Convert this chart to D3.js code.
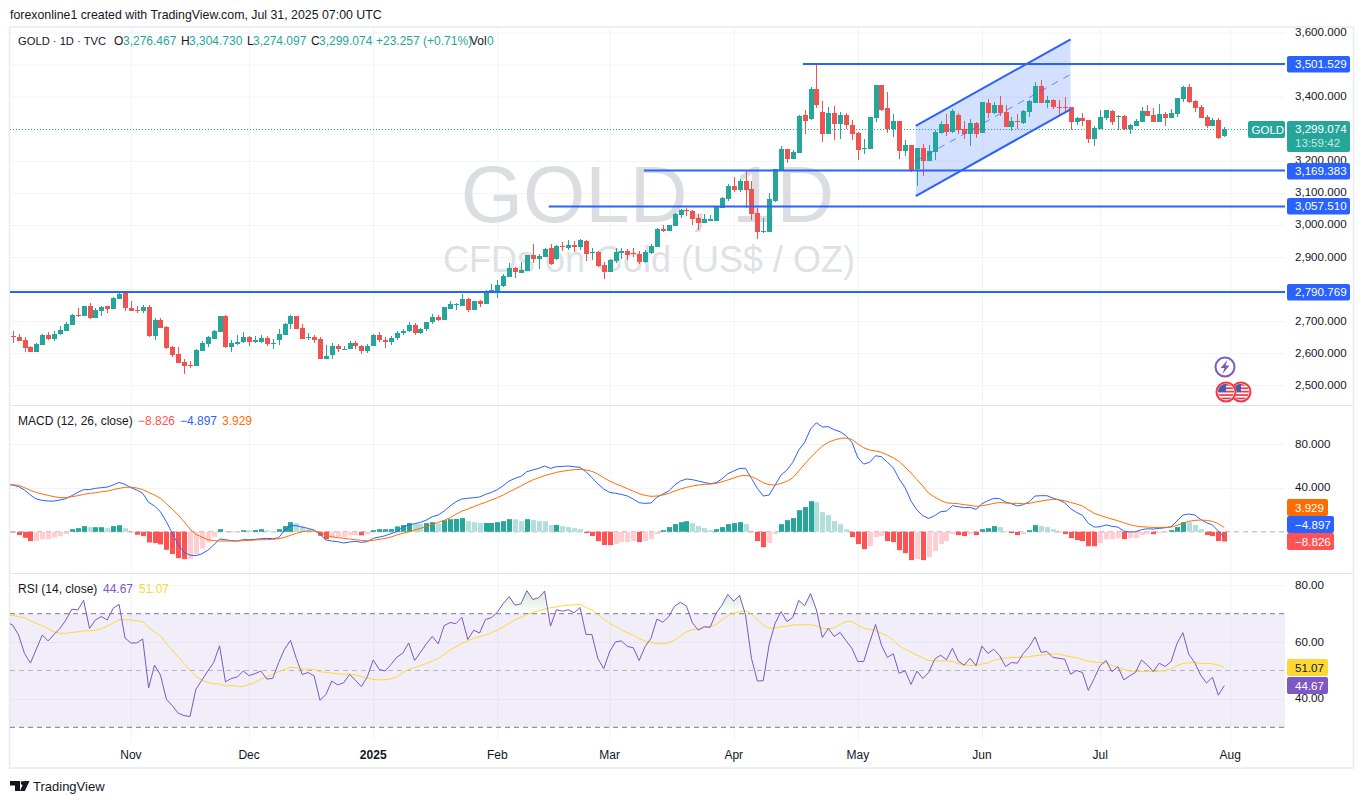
<!DOCTYPE html>
<html><head><meta charset="utf-8">
<script src="https://d3js.org/d3.v7.min.js"></script>
<style>
html,body{margin:0;padding:0;background:#fff;overflow:hidden}
svg{display:block;font-family:"Liberation Sans",Arial,sans-serif}
.tick text{font-family:"Liberation Sans",Arial,sans-serif}
</style></head><body><div id="c"></div>
<script>
const opens=[2654,2651,2641,2619,2604,2626,2657,2644,2660,2669,2688,2719,2716,2747,2710,2732,2747,2738,2769,2788,2741,2735,2732,2744,2654,2704,2682,2619,2598,2573,2563,2560,2607,2629,2644,2666,2716,2619,2629,2635,2651,2635,2635,2647,2630,2641,2657,2691,2716,2679,2647,2651,2644,2582,
2593,2621,2612,2614,2633,2621,2606,2624,2658,2640,2636,2649,2662,2670,2689,2663,2677,2696,2713,2703,2738,2750,2747,2769,2735,2763,2753,2794,2791,2810,2838,2866,2850,2856,2906,2894,2900,2928,2894,2934,2928,2937,2931,2950,2912,2915,2875,2853,2888,2912,2919,2912,2909,2884,2913,2931,2987,2981,2997,3031,3047,3043,3022,3006,3013,3013,3053,3081,3121,3109,3137,3112,3037,2978,2978,3075,3171,3237,3206,3224,3343,3330,3424,3352,3284,3349,3315,3343,3312,3287,3236,3237,3333,3436,3364,3299,3324,3231,3249,3174,3240,3199,3227,3287,3315,3290,3343,3299,3284,3318,3287,3380,3349,3374,3352,3305,3324,3318,3352,3380,3433,3380,3390,3368,3368,3368,3321,3333,3327,3268,3299,3333,3355,3335,3339,3299,3309,3321,3355,3343,3321,3346,3333,3346,3393,3430,3386,3368,3336,3308,3327,3276.467];
const highs=[2669,2660,2651,2622,2632,2660,2666,2669,2685,2697,2722,2741,2747,2757,2741,2747,2747,2775,2788,2791,2763,2747,2750,2750,2710,2710,2685,2622,2619,2582,2576,2613,2638,2654,2672,2716,2719,2641,2657,2666,2654,2654,2657,2654,2644,2676,2694,2719,2716,2691,2663,2657,2651,2626,
2632,2630,2621,2639,2637,2625,2630,2660,2665,2650,2654,2670,2674,2696,2694,2680,2698,2722,2720,2745,2763,2756,2785,2773,2763,2766,2798,2816,2828,2847,2881,2869,2884,2907,2941,2909,2928,2941,2937,2947,2953,2950,2956,2953,2928,2919,2884,2894,2928,2928,2925,2928,2919,2922,2941,2990,2999,2999,3037,3050,3054,3047,3034,3034,3031,3056,3087,3128,3149,3143,3168,3137,3053,3022,3100,3175,3246,3237,3234,3343,3358,3430,3502,3386,3368,3371,3352,3349,3327,3290,3268,3337,3436,3436,3414,3346,3324,3265,3249,3240,3252,3249,3296,3324,3346,3361,3349,3324,3330,3321,3383,3393,3383,3402,3374,3336,3346,3358,3389,3446,3452,3402,3393,3390,3399,3368,3336,3349,3327,3308,3358,3358,3358,3343,3343,3315,3330,3368,3374,3365,3377,3352,3361,3396,3433,3439,3390,3374,3343,3333,3333,3304.73];
const lows=[2632,2638,2604,2604,2604,2626,2641,2638,2657,2669,2688,2713,2716,2707,2710,2716,2725,2738,2769,2732,2732,2725,2725,2651,2641,2679,2613,2588,2570,2535,2554,2560,2607,2619,2644,2666,2616,2604,2626,2632,2622,2632,2632,2622,2613,2626,2657,2676,2676,2644,2641,2632,2582,2582,
2583,2603,2610,2614,2613,2597,2600,2622,2636,2615,2626,2642,2656,2666,2656,2660,2670,2690,2700,2703,2738,2735,2747,2729,2735,2744,2753,2791,2772,2807,2838,2835,2850,2855,2881,2863,2900,2875,2891,2919,2922,2916,2922,2888,2891,2869,2831,2853,2881,2894,2891,2900,2878,2881,2909,2931,2978,2981,2997,3022,3028,3000,2984,3006,3012,3013,3053,3075,3103,3103,3053,3015,2956,2975,2978,3072,3168,3193,3206,3224,3283,3327,3365,3259,3284,3265,3268,3299,3265,3202,3221,3237,3321,3355,3287,3274,3206,3215,3165,3121,3153,3199,3202,3283,3277,3287,3283,3268,3246,3271,3287,3333,3346,3340,3305,3293,3299,3315,3336,3380,3380,3365,3361,3340,3349,3296,3312,3308,3255,3246,3299,3327,3312,3296,3296,3283,3309,3321,3340,3321,3321,3308,3333,3337,3383,3380,3352,3333,3302,3308,3268,3274.097];
const closes=[2652,2638,2616,2604,2629,2657,2644,2660,2672,2691,2719,2716,2747,2710,2735,2744,2738,2772,2785,2741,2732,2732,2744,2654,2704,2679,2616,2594,2570,2560,2560,2610,2632,2651,2669,2716,2619,2632,2635,2651,2635,2641,2647,2629,2632,2660,2691,2716,2676,2644,2650,2641,2582,2591,
2621,2612,2614,2633,2621,2606,2624,2658,2640,2636,2649,2662,2670,2689,2663,2677,2696,2713,2703,2744,2753,2753,2769,2735,2763,2753,2794,2797,2813,2841,2866,2853,2859,2906,2894,2903,2925,2878,2934,2931,2937,2931,2953,2909,2915,2872,2853,2891,2916,2919,2906,2909,2884,2916,2934,2987,2981,2999,3034,3047,3043,3018,3006,3018,3018,3056,3084,3121,3109,3137,3109,3034,2978,2981,3081,3175,3237,3206,3227,3340,3324,3424,3374,3284,3349,3315,3343,3312,3284,3234,3240,3337,3436,3358,3299,3324,3231,3249,3168,3240,3199,3230,3290,3315,3290,3355,3296,3284,3318,3284,3383,3349,3374,3349,3305,3324,3321,3355,3386,3433,3380,3390,3368,3365,3365,3321,3333,3324,3268,3302,3337,3358,3321,3339,3299,3312,3324,3355,3340,3321,3346,3333,3349,3396,3430,3383,3365,3333,3308,3327,3271,3299.074];
const macdLine=[42.6,41.1,38.1,33.5,29.9,28.6,28,28,29,30.2,32.9,35.9,38.4,38.4,39.6,40.2,40.8,42.6,45,43.2,40.2,38.1,35,26.8,23.5,18.3,9.2,-1.4,-11.5,-18.7,-21.2,-21.8,-20,-16.9,-12.1,-6.6,-7.2,-8.1,-8.4,-7.2,-7.2,-6.9,-6.3,-6,-6.3,-5.4,1.3,5.6,5.6,4.3,3.1,1.6,-2.3,-7.5,-8.4,-9,-10.2,-9.3,-8.7,-9.6,-9,-6,-4.8,-3.6,-1.7,0.1,4.3,6.2,7.4,8.6,10.7,13.8,15.3,18.9,23.5,
27.4,29.9,30.5,31.1,31.7,34.1,35.9,38.4,42,46.3,48.7,50.5,54.8,56.3,57.8,59.9,57.8,59.3,59.6,59.9,59.3,58.7,54.8,49.3,43.8,39,35.9,35,34.1,32.6,29.9,26.5,25.9,26.2,31.4,34.4,37.1,42.6,46.3,48.1,47.5,46.3,45,43.8,44.7,48.1,52.9,55.4,57.8,57.8,48.7,39.6,32.6,33.5,42.6,51.7,56.3,63.3,74.5,81.5,93.6,99.4,95.5,95.8,93,91.2,87.6,81.5,67.5,61.7,63.3,69.3,68.4,63.3,58.4,48.1,
40.2,28,19.8,14.7,12.2,14.7,18.3,18.9,23.8,22.9,22,22.3,20.4,25.6,28.3,30.5,30.2,27.1,25.6,23.5,24.7,27.4,32.6,32.9,32.9,30.8,29,26.5,21.1,17.7,15,7.7,4.3,4.6,6.2,5,4.3,0.7,-0.2,0.1,1.9,2.8,2.5,3.1,3.7,4.6,9.8,15.3,16.2,15.3,11.3,8.3,6.2,0.7,-4.897];
const signalLine=[42.9,42.3,40.2,37.8,35.9,34.4,33.2,32,31.1,31.1,32,32.9,34.1,35,35.6,36.5,37.1,38.4,39.6,40.5,40.8,39.9,38.4,35.9,33.5,30.5,25.6,20.7,15.3,9.2,2.5,-2.3,-4.8,-7.2,-8.1,-8.4,-8.4,-8.4,-8.4,-8.1,-7.8,-7.5,-7.2,-7.2,-6.9,-6.3,-5.1,-3.2,-1.4,0.1,0.7,0.7,-0.8,-3.2,-4.5,-5.4,-6,-6.6,-7.2,-7.8,-8.1,-7.8,-6.9,-6,-4.8,-2.9,-1.4,0.1,1.6,3.1,4.9,6.5,8.6,10.4,12.8,
15.9,18.9,20.7,22.9,25,26.8,29,31.1,33.5,36.5,39,41.7,44.7,47.2,49.3,51.1,52.6,54.2,55.1,56,56.6,56.9,56.3,55.1,52.6,49.3,46.3,43.8,41.7,39.3,37.1,34.7,33.2,32.3,32.6,33.5,35,37.1,39,40.5,41.7,42.6,43.2,43.5,44.1,45.6,47.2,49,50.8,51.4,50.5,47.8,44.7,42.9,42.6,44.1,46,49.3,55.4,61.7,67.5,73,78.1,81.5,83.6,85.1,85.4,84.2,80,76.6,74.5,73.6,72.4,70,67.5,63.9,
59,53.5,47.5,41.7,35,31.7,28.6,26.5,25.9,25.6,24.7,24.1,23.2,23.8,24.7,25.9,26.8,26.2,25.9,25.9,25.6,25.9,27.1,28,28.9,29.6,29.2,28.3,26.8,25.3,23.5,20.1,16.8,15,13.2,11.6,10.1,8.3,6.5,5.3,4.6,4.3,4,4,4,4.3,5.9,8,9.5,10.4,10.7,10.4,9.5,7.4,3.929];
const histValues=[-0.5,-3,-5.5,-8.5,-8.5,-6.7,-6.7,-5.2,-4,-2,2.4,3.3,5.2,4.2,4.2,4.2,3.3,5.2,6,3.3,-0.3,-2.7,-3.9,-9.7,-10.3,-11.5,-16.4,-20.3,-24,-24.9,-24.9,-20.3,-15.2,-9.7,-4.9,2.4,0.3,-0.3,-0.3,1.5,1.4,1.6,2.4,1.2,0.6,2.4,5.2,8.8,7.9,4.9,2.4,0.6,-3.6,-6.7,-5.5,-5.2,-5,-3.3,-3,-3.2,-2.1,1.5,2.4,2.4,2.4,4.9,6.1,7.9,7.3,7.2,7.9,8.8,7.6,10.6,11.5,11.8,12.5,9.7,8.8,7.9,8,8,8.8,9.7,11.5,11.3,9.7,11.5,10.6,9.7,9.6,6.1,6.2,5.2,4.3,3.3,2.4,-1.2,-3.9,-8.5,-12.1,-12.2,-11.2,-9.4,-9.4,-8.5,-9.4,-8.5,-6.7,-2.1,1.5,4.3,7,8.8,9.7,7.9,5.2,3.3,1.5,2.4,4.3,7,7.9,8.8,7,-0.3,-8.5,-14,-10.3,-2.1,7,10.6,12.5,19.7,22.5,27.9,27,17.9,15.2,9.7,7,2.4,-4.9,-11.2,-15.8,-13.1,-4.9,-3.9,-8.5,-9.4,-16.7,-19.4,-25.8,-24.9,-25.8,-23.1,-17.6,-11.2,-8.5,-2.1,-3,-3.9,-2.1,-3,2.4,3.3,5.2,4.3,0.6,-1.2,-3,-2.1,1.5,6.1,5.2,4.3,2.4,-0.3,-2.1,-5.8,-7.6,-8.5,-13.1,-13.2,-10.3,-6.7,-6.7,-5.8,-6.7,-5.8,-5.8,-3,-2.1,-2.2,-1.2,-0.3,1.5,4.3,8.8,8.7,6.1,2.4,-3,-3.9,-8.5,-8.826];
const rsiValues=[66,62.5,56,52.6,57.5,62.5,60.4,62.7,64.8,67.8,71.6,71.3,74.7,64.8,67.8,69,67.8,71.9,73.3,61.5,59.7,59.7,61.1,43.9,51.9,48.4,39.9,37.6,35,34.1,33.8,43.4,46.6,49.8,52.8,58.7,46,47.2,47.7,49.8,48.2,48.9,49.8,47,47.2,52.8,57.5,60.6,54.2,48.6,49.3,48.1,39.5,41.6,46.3,44.9,45.7,48.6,46.6,44.3,47.8,53.7,50.4,49.8,52.1,54.7,56.1,59.7,53.5,56.4,59.4,62,59.4,65.8,66.9,
66.5,68.7,60.9,64.2,63.2,68,68.6,70.5,73.6,76,73,73.5,78.1,75,75.6,78,65.6,71.4,70.9,71.4,70.3,72.2,62.7,62.7,54.3,50.6,56.6,60.1,60.4,58.5,58,53.5,58.4,61.3,68.1,67,68.9,72.7,74,72.7,66.8,64.2,65.4,65.2,70.1,73,76.8,74.4,76.4,69.5,54.3,46.3,46.4,59.2,66.6,70.7,67.2,68.7,74.7,72.8,77.1,71.3,61.6,64.8,62,63.4,60.5,57.8,53.1,53.2,59.9,66.2,58.9,54.6,55.9,49,
49.9,45.1,49.8,47.2,49.3,54,55.4,53.8,57.8,53.3,51.9,54.3,51.7,58.6,56,57.5,55.2,51.4,52.8,52.6,56,58.4,61.8,56.4,56.7,54.6,54.3,54,48.7,50,49.3,43,47.2,51.7,53.5,49.6,51.3,46.7,48.1,49.4,53.7,51.9,49.6,52.6,51.4,53.1,59.5,63.3,55.7,52.8,48.4,45.6,47.6,41.3,44.67];
const rsiMA=[69.4,69,68.6,67.5,66.6,65.8,64.8,63.6,63.1,63.1,63.4,63.6,64,64,64.1,64.7,65.6,66.8,67.8,67.9,67.8,67.5,67.2,65.2,63.6,62.2,59.5,57.2,54.8,52.5,50.1,47.8,46.6,45.8,45.4,45.3,44.5,44.7,44.4,44.4,45.1,45.8,47,47.8,48.7,49.6,50.4,51.1,51,50.4,50.5,50.3,49.6,49.3,49.1,48.9,48.7,48.7,48.4,47.8,47.3,46.9,46.7,46.7,47.1,47.7,49.3,50.4,51,51.7,52.5,53.3,54.2,55.7,57.2,
58.4,59.5,60.5,61.3,62,62.5,63.3,64.2,65.4,66.6,67.8,68.7,69.7,70.5,71,71.6,72.1,72.4,72.8,73,73.1,73.3,72.2,71.3,69.7,68.1,66.6,65.6,64.2,63.3,62.5,61.2,60.4,59.9,59.5,59.4,59.8,60.7,62.1,63.6,64.3,64.7,65.2,65.4,66.2,67.8,69.3,70.2,70.7,71,69.9,67.8,66,64.9,65,65.4,65.6,66,66.1,66.1,66.1,65.8,64.9,64.7,65,66.2,67.3,67.2,66,64.8,64.5,64.1,63.1,62.2,60.7,58.7,
57.5,56.5,55.4,54.5,53.5,53.4,53.4,53.4,53.2,52.4,51.9,51.8,51.7,52.3,52.6,53.5,54.1,54.4,54.6,54.6,54.7,54.9,55.2,55.4,55.7,55.8,55.8,55.3,54.8,54.5,53.9,53.3,53,52.8,52.7,51.8,51.1,50.4,49.8,49.7,49.7,49.6,49.6,49.8,49.9,50.6,51.7,52.5,52.7,52.8,52.5,52.5,52.4,51.9,51.07];
// values of the bar just left of the visible window; only its connecting segment shows
const priorBar={macd:43.4,signal:43.1,rsi:67,ma:69.6};
const monthLabels=["Nov","Dec","2025","Feb","Mar","Apr","May","Jun","Jul","Aug"];
const monthBars=[20,40,61,82,101,122,143,164,184,206];
const priceTicks=[2500,2600,2700,2800,2900,3000,3100,3200,3300,3400,3500,3600];
const priceLabels=[2500,2600,2700,2900,3000,3100,3200,3400,3600];
const macdTicks=[40,80];
const rsiTicks=[40,60,80];
const levels=[3501.529,3169.383,3057.51,2790.769];
const levelStart=[133.7,106.8,90.7,-0.45];
const channelBars=[152.8,179];
const channelTop=[3308.5,3578.9];
const channelMid=[3199,3469.7];
const channelBottom=[3090,3360.6];
const lastPrice=3299.074;

for(const [n,a] of Object.entries({opens,highs,lows,closes,macdLine,signalLine,histValues,rsiValues,rsiMA}))
  if(a.length!==206) throw new Error(n+" length "+a.length);

const W=1364,H=804,L=10,R=1285;
const INK="#131722",UP="#26a69a",DN="#ef5350",BL="#2962ff",FRAME="#e8eaf0",GRID="#f0f3fa";
const FS="11.6px";
const svg=d3.select("#c").append("svg").attr("width",W).attr("height",H);
const x=d3.scaleLinear().domain([0,206]).range([12.7,12.7+5.91*206]);
const yP=d3.scaleLinear().domain([2500,3600]).range([385.3,32.5]);
const yM=d3.scaleLinear().domain([0,80]).range([531.8,444]);
const yR=d3.scaleLinear().domain([30,80]).range([727.3,585.3]);
const idx=d3.range(206);

function defsClip(id,a,b){svg.append("clipPath").attr("id",id).append("rect").attr("x",L).attr("y",a).attr("width",R-L).attr("height",b-a);}
defsClip("cp",27,405);defsClip("cm",406,573);defsClip("cr",574,741);

const vg=svg.append("g").attr("transform","translate(0,741)").call(
  d3.axisTop(x).tickValues(monthBars).tickSize(741-27).tickFormat(""));
vg.select(".domain").remove();vg.selectAll("line").attr("stroke",GRID).attr("stroke-width",1);
function hgrid(scale,ticks){
  const g=svg.append("g").attr("transform",`translate(${L},0)`).call(d3.axisRight(scale).tickValues(ticks).tickSize(R-L).tickFormat(""));
  g.select(".domain").remove();g.selectAll("line").attr("stroke",GRID);
}
hgrid(yP,priceTicks);hgrid(yM,macdTicks);hgrid(yR,rsiTicks);

svg.append("text").attr("x",647.5).attr("y",222).attr("text-anchor","middle").attr("font-size",80).attr("fill","#dcdde0").text("GOLD, 1D");
svg.append("text").attr("x",649).attr("y",272).attr("text-anchor","middle").attr("font-size",36).attr("fill","#e0e1e4").text("CFDs on Gold (US$ / OZ)");

const fr=svg.append("g");
fr.append("rect").attr("x",9.5).attr("y",27).attr("width",1344).attr("height",741).attr("fill","none").attr("stroke",FRAME).attr("stroke-width",1.5);
fr.append("line").attr("x1",10).attr("x2",1353).attr("y1",405.5).attr("y2",405.5).attr("stroke","#e0e3eb");
fr.append("line").attr("x1",10).attr("x2",1353).attr("y1",573.5).attr("y2",573.5).attr("stroke","#e0e3eb");

const chan=svg.append("g").attr("clip-path","url(#cp)");
const bandPts=[[channelBars[0],channelTop[0]],[channelBars[1],channelTop[1]],[channelBars[1],channelBottom[1]],[channelBars[0],channelBottom[0]]];
chan.append("path").attr("d",d3.line().x(d=>x(d[0])).y(d=>yP(d[1]))(bandPts)+"Z").attr("fill",BL).attr("fill-opacity",.2);

const lastY=Math.round(yP(lastPrice))+.5;
svg.append("line").attr("x1",L).attr("x2",1248).attr("y1",lastY).attr("y2",lastY)
  .attr("stroke",UP).attr("stroke-dasharray","1 2").attr("stroke-width",1);

const cg=svg.append("g").attr("clip-path","url(#cp)");
cg.selectAll("line").data(idx).join("line")
  .attr("x1",i=>Math.round(x(i))+.5).attr("x2",i=>Math.round(x(i))+.5)
  .attr("y1",i=>Math.round(yP(highs[i]))).attr("y2",i=>Math.round(yP(lows[i])))
  .attr("stroke",i=>closes[i]>=opens[i]?UP:DN).attr("stroke-width",1);
cg.selectAll("rect").data(idx).join("rect")
  .attr("x",i=>Math.round(x(i))-2).attr("width",5)
  .attr("y",i=>Math.round(yP(Math.max(opens[i],closes[i]))))
  .attr("height",i=>Math.max(1,Math.round(yP(Math.min(opens[i],closes[i])))-Math.round(yP(Math.max(opens[i],closes[i])))))
  .attr("fill",i=>closes[i]>=opens[i]?UP:DN);

[channelTop,channelBottom].forEach(a=>{
  svg.append("line").attr("x1",x(channelBars[0])).attr("x2",x(channelBars[1])).attr("y1",yP(a[0])).attr("y2",yP(a[1])).attr("stroke",BL).attr("stroke-width",2);
});
svg.append("line").attr("x1",x(channelBars[0])).attr("x2",x(channelBars[1])).attr("y1",yP(channelMid[0])).attr("y2",yP(channelMid[1]))
  .attr("stroke",BL).attr("stroke-opacity",.7).attr("stroke-width",1).attr("stroke-dasharray","7 6");
levels.forEach((v,k)=>{
  svg.append("line").attr("x1",x(levelStart[k])).attr("x2",R).attr("y1",yP(v)).attr("y2",yP(v)).attr("stroke",BL).attr("stroke-width",2);
});

const mg=svg.append("g").attr("clip-path","url(#cm)");
mg.append("line").attr("x1",L).attr("x2",R).attr("y1",yM(0)).attr("y2",yM(0)).attr("stroke","#787b86").attr("stroke-opacity",.6).attr("stroke-dasharray","5 4");
function histColor(i){
  const v=histValues[i],p=i?histValues[i-1]:v-1;
  if(v>=0) return v>=p?"#26a69a":"#b2dfdb";
  return (i===0||v<p)?"#ff5252":"#ffcdd2";
}
mg.selectAll("rect").data(idx).join("rect")
  .attr("x",i=>Math.round(x(i))-2).attr("width",5)
  .attr("y",i=>Math.min(yM(0),yM(histValues[i])))
  .attr("height",i=>Math.abs(yM(0)-yM(histValues[i])))
  .attr("fill",histColor);
const lineOf=(arr,sc,prior)=>d3.line().x((d,i)=>x(i-1)).y(d=>sc(d))([prior,...arr]);
mg.append("path").attr("d",lineOf(macdLine,yM,priorBar.macd)).attr("fill","none").attr("stroke",BL).attr("stroke-width",1);
mg.append("path").attr("d",lineOf(signalLine,yM,priorBar.signal)).attr("fill","none").attr("stroke","#ff6d00").attr("stroke-width",1);

const rg=svg.append("g").attr("clip-path","url(#cr)");
rg.append("rect").attr("x",L).attr("width",R-L).attr("y",yR(70)).attr("height",yR(30)-yR(70)).attr("fill","#7e57c2").attr("fill-opacity",.1);
const grad=svg.append("defs").append("linearGradient").attr("id","ob").attr("gradientUnits","userSpaceOnUse").attr("x1",0).attr("x2",0).attr("y1",yR(78)).attr("y2",yR(70));
grad.append("stop").attr("offset",0).attr("stop-color","#4caf50").attr("stop-opacity",.25);
grad.append("stop").attr("offset",1).attr("stop-color","#4caf50").attr("stop-opacity",0);
svg.append("clipPath").attr("id","above").append("rect").attr("x",L).attr("y",574).attr("width",R-L).attr("height",yR(70)-574);
rg.append("g").attr("clip-path","url(#above)").append("path")
  .attr("d",d3.area().x((d,i)=>x(i)).y0(yR(70)).y1(d=>yR(d))(rsiValues)).attr("fill","url(#ob)");
[[70,1],[30,1],[50,.5]].forEach(([v,o])=>{
  rg.append("line").attr("x1",L).attr("x2",R).attr("y1",yR(v)).attr("y2",yR(v)).attr("stroke","#787b86").attr("stroke-opacity",o).attr("stroke-dasharray","5 4");
});
rg.append("path").attr("d",lineOf(rsiMA,yR,priorBar.ma)).attr("fill","none").attr("stroke","#fdd835").attr("stroke-width",1);
rg.append("path").attr("d",lineOf(rsiValues,yR,priorBar.rsi)).attr("fill","none").attr("stroke","#7e57c2").attr("stroke-width",1);

function axisR(scale,ticks,fmt){
  const g=svg.append("g").attr("transform","translate(1295,-0.7)").call(d3.axisRight(scale).tickValues(ticks).tickSize(0).tickPadding(0).tickFormat(fmt));
  g.select(".domain").remove();
  g.selectAll("text").attr("fill",INK).style("font-size",FS);
}
axisR(yP,priceLabels,d3.format(",.3f"));
axisR(yM,macdTicks,d3.format(".3f"));
axisR(yR,rsiTicks,d3.format(".2f"));
const ax=svg.append("g").attr("transform","translate(-0.5,747)").call(d3.axisBottom(x).tickValues(monthBars).tickSize(0).tickPadding(3).tickFormat((d,i)=>monthLabels[i]));
ax.select(".domain").remove();
ax.selectAll("text").attr("fill",INK).style("font-size","12px").attr("font-weight",(d,i)=>monthLabels[i]==="2025"?"700":"400");

function pill(x0,y0,w,h,fill,txt,tc){
  svg.append("rect").attr("x",x0).attr("y",y0).attr("width",w).attr("height",h).attr("rx",2).attr("fill",fill);
  svg.append("text").attr("x",1295).attr("y",y0+h/2+4).attr("fill",tc||"#fff").style("font-size",FS).text(txt);
}
const fmtP=d3.format(",.3f");
levels.forEach(v=>pill(1287,Math.round(yP(v))-8,63,16.5,BL,fmtP(v)));
svg.append("rect").attr("x",1287).attr("y",121).attr("width",63).attr("height",31).attr("rx",2).attr("fill",UP);
svg.append("text").attr("x",1295).attr("y",133).attr("fill","#fff").style("font-size",FS).text(fmtP(lastPrice));
svg.append("text").attr("x",1295).attr("y",147).attr("fill","#fff").attr("fill-opacity",.75).style("font-size",FS).text("13:59:42");
svg.append("rect").attr("x",1248).attr("y",121).attr("width",37).attr("height",17).attr("rx",2).attr("fill",UP);
svg.append("text").attr("x",1251.5).attr("y",133.5).attr("fill","#fff").style("font-size","11.5px").text("GOLD");
pill(1287,499,41,17,"#ff6d00","3.929");
pill(1287,516,47,17,BL,"−4.897");
pill(1287,533,47,17,"#ff5252","−8.826");
pill(1287,659,41,17,"#fdd835","51.07",INK);
pill(1287,677,41,17,"#7e57c2","44.67");

function spans(y,parts){
  const t=svg.append("text").attr("y",y).style("font-size","12px");
  parts.forEach(([px,s,c])=>t.append("tspan").attr("x",px).attr("fill",c).text(s));
}
svg.append("text").attr("x",10).attr("y",19).attr("fill",INK).style("font-size","12.35px").text("forexonline1 created with TradingView.com, Jul 31, 2025 07:00 UTC");
svg.append("text").attr("x",18).attr("y",45).attr("fill",INK).style("font-size","11.2px").text("GOLD · 1D · TVC");
spans(45,[[114,"O",INK],[123,"3,276.467",UP],[181,"H",INK],[189,"3,304.730",UP],[247,"L",INK],[253,"3,274.097",UP],[311,"C",INK],[319,"3,299.074",UP],[376,"+23.257 (+0.71%)",UP]]);
spans(45,[[470,"Vol",INK],[487,"0",UP]]);
spans(425,[[18,"MACD (12, 26, close)",INK],[138,"−8.826","#ff5252"],[180,"−4.897",BL],[222,"3.929","#ff6d00"]]);
spans(593,[[18,"RSI (14, close)",INK],[103,"44.67","#7e57c2"],[139,"51.07","#fdd835"]]);

svg.append("path").attr("d","M10 781h10v10h-5v-5.5h-5zM29.5 781l-4.6 10h-5l4.6-10z").attr("fill",INK);
svg.append("circle").attr("cx",22.7).attr("cy",783).attr("r",2).attr("fill",INK);
svg.append("text").attr("x",33).attr("y",791).attr("fill",INK).style("font-size","13px").text("TradingView");

function flag(cx,cy,id){
  const g=svg.append("g");
  svg.append("clipPath").attr("id",id).append("circle").attr("cx",cx).attr("cy",cy).attr("r",8);
  g.append("circle").attr("cx",cx).attr("cy",cy).attr("r",10.5).attr("fill","#fff");
  g.append("circle").attr("cx",cx).attr("cy",cy).attr("r",9.5).attr("fill","none").attr("stroke","#f23645").attr("stroke-width",2);
  const f=g.append("g").attr("clip-path",`url(#${id})`);
  d3.range(5).forEach(k=>f.append("rect").attr("x",cx-8).attr("y",cy-8+k*3.4).attr("width",16).attr("height",1.7).attr("fill","#f23645"));
  f.append("rect").attr("x",cx-8).attr("y",cy-8).attr("width",8).attr("height",8).attr("fill","#3c5fb8");
}
flag(1241,392,"f2");flag(1226,392,"f1");
svg.append("circle").attr("cx",1225).attr("cy",367).attr("r",9.5).attr("fill","#fff").attr("stroke","#7e57c2").attr("stroke-width",2);
svg.append("path").attr("d","M1227.5 360l-7 8h4l-2 6 7-8.5h-4z").attr("fill","#7e57c2");
</script></body></html>
